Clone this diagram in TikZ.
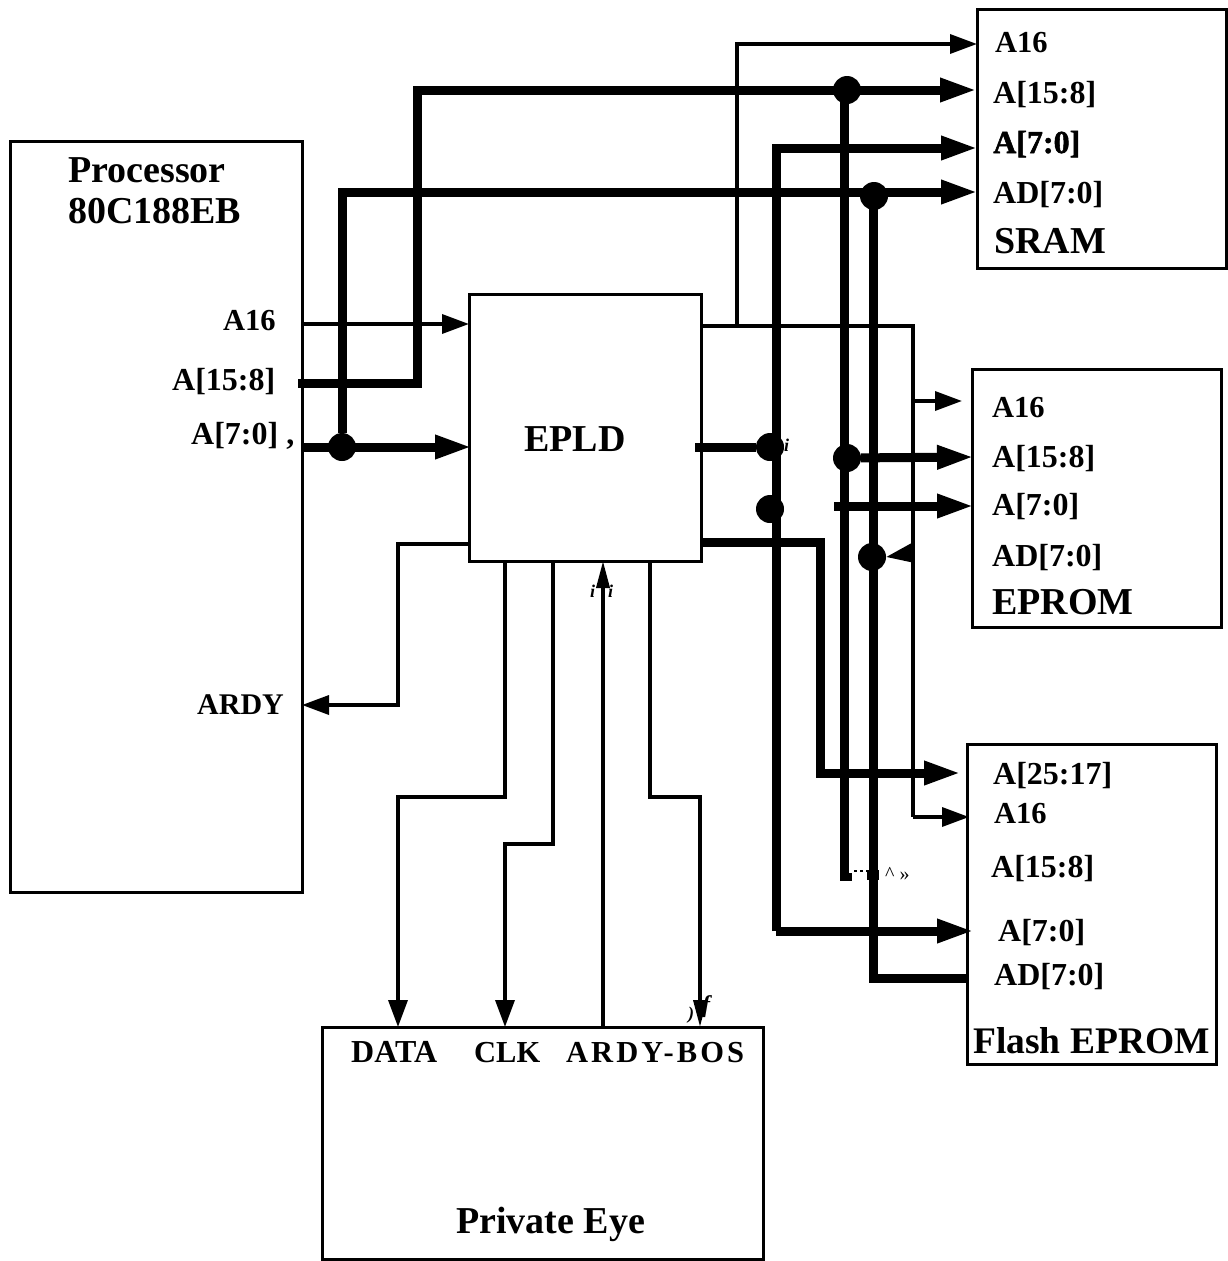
\documentclass[tikz,border=0pt]{standalone}
\usepackage{fontspec}
\setmainfont{Liberation Serif}
\newfontfamily\spacedfont[LetterSpace=10]{Liberation Serif}
\newfontfamily\heavyfont[UprightFont={* Bold},FakeBold=1.6]{Liberation Serif}
\usetikzlibrary{arrows.meta,positioning,calc}

\begin{document}
\begin{tikzpicture}[x=1pt,y=-1pt,
  box/.style={draw,line width=3pt,rectangle,inner sep=0pt,outer sep=0pt,anchor=north west},
  pin/.style={anchor=base west,inner sep=0pt,font=\fontsize{32}{34}\bfseries\selectfont},
  shortpin/.style={pin,font=\fontsize{30.5}{32}\bfseries\selectfont},
  title/.style={anchor=base west,inner sep=0pt,font=\fontsize{38}{41}\bfseries\selectfont},
  junk/.style={anchor=base west,inner sep=0pt,font=\fontsize{18}{20}\bfseries\itshape\selectfont},
  dot/.style={circle,fill=black,inner sep=0pt,minimum size=28pt},
  wire/.style={line width=3.5pt},
  bus/.style={line width=9pt},
  arr/.style={wire,-{Triangle[length=27pt,width=19pt]}},
  slimarr/.style={wire,-{Triangle[length=27pt,width=13pt]}},
  busarr/.style={bus,-{Triangle[length=37pt,width=22pt]}}]
\useasboundingbox (0,0) rectangle (1227,1261);

\node[box,minimum width=292pt,minimum height=751pt] (proc) at (10,141) {};
\node[box,minimum width=232pt,minimum height=267pt] (epld) at (469,294) {};
\node[box,minimum width=249pt,minimum height=259pt] (sram) at (977,9) {};
\node[box,minimum width=249pt,minimum height=258pt] (eprom) at (972,369) {};
\node[box,minimum width=249pt,minimum height=320pt] (flash) at (967,744) {};
\node[box,minimum width=441pt,minimum height=232pt] (eye) at (322,1027) {};

\node[title,align=left,anchor=north west] (proctitle) at (68,157) {Processor\\80C188EB};
\node[title] (epldtitle) at (524,451) {EPLD};
\node[title] (sramtitle) at (994,253) {SRAM};
\node[title] (epromtitle) at (992,614) {EPROM};
\node[title,font=\fontsize{37.5}{40}\bfseries\selectfont] (flashtitle) at (973,1053) {Flash EPROM};
\node[title] (eyetitle) at (456,1233) {Private Eye};

\node[shortpin] (lpa) at (223,330) {A16};
\node[pin] (lpb) at (172,390) {A[15:8]};
\node[pin] (lpc) at (191,444) {A[7:0] ,};
\node[pin,font=\fontsize{30}{32}\bfseries\selectfont] (lpd) at (197,714) {ARDY};
\node[shortpin] (lsa) at (995,52) {A16};
\node[pin] (lsb) at (993,103) {A[15:8]};
\node[pin] (lsc) at (993,153) {\heavyfont A[7:0]};
\node[pin] (lsd) at (993,203) {AD[7:0]};
\node[shortpin] (lea) at (992,417) {A16};
\node[pin] (leb) at (992,467) {A[15:8]};
\node[pin] (lec) at (992,515) {A[7:0]};
\node[pin] (led) at (992,566) {AD[7:0]};
\node[pin] (lfa) at (993,784) {A[25:17]};
\node[shortpin] (lfb) at (994,823) {A16};
\node[pin] (lfc) at (991,877) {A[15:8]};
\node[pin] (lfd) at (998,941) {A[7:0]};
\node[pin] (lfe) at (994,985) {AD[7:0]};
\node[pin] (lya) at (351,1062) {DATA};
\node[shortpin] (lyb) at (474,1062) {CLK};
\node[shortpin] (lyc) at (566,1062) {\spacedfont ARDY-BOS};

\coordinate (pa) at (302,324);
\coordinate (pb) at (298,383);
\coordinate (pc) at (302,447);
\coordinate (pd) at (302,705);
\coordinate (ea) at (469,324);
\coordinate (ec) at (472,447);
\coordinate (ed) at (469,544);
\coordinate (oa) at (701,326);
\coordinate (oc) at (695,447);
\coordinate (od) at (701,542);
\coordinate (sa) at (977,44);
\coordinate (sb) at (977,90);
\coordinate (sc) at (978,148);
\coordinate (sd) at (978,192);
\coordinate (ra) at (962,401);
\coordinate (rb) at (974,457);
\coordinate (rc) at (974,506);
\coordinate (fa) at (961,773);
\coordinate (fb) at (969,817);
\coordinate (fd) at (974,931);
\coordinate (fe) at (967,978);
\coordinate (ya) at (398,1027);
\coordinate (yb) at (505,1027);
\coordinate (yc) at (603,1027);
\coordinate (yd) at (700,1027);
\coordinate (ua) at (505,561);
\coordinate (ub) at (553,561);
\coordinate (uc) at (603,561);
\coordinate (ud) at (650,561);
\coordinate (ka) at (417,90);
\coordinate (kc) at (342,192);
\coordinate (kd) at (398,705);
\coordinate (ke) at (737,44);
\coordinate (kf) at (776,148);
\coordinate (kg) at (913,817);
\coordinate (kh) at (820,773);
\coordinate (kj) at (873,978);
\coordinate (kk) at (776,931);
\coordinate (kl) at (398,797);
\coordinate (km) at (505,844);
\coordinate (kn) at (700,797);
\coordinate (ko) at (844,90);
\coordinate (kp) at (873,192);
\coordinate (ma) at (737,326);
\coordinate (mb) at (913,401);
\coordinate (mc) at (913,553);
\coordinate (md) at (834,506);
\coordinate (me) at (844,878);
\coordinate (mf) at (873,875);
\coordinate (mg) at (854,871);
\coordinate (mh) at (867,871);

\node[dot] (da) at (847,90) {};
\node[dot] (db) at (874,196) {};
\node[dot] (dc) at (342,447) {};
\node[dot] (dd) at (770,447) {};
\node[dot] (de) at (770,509) {};
\node[dot] (df) at (847,458) {};
\node[dot] (dg) at (872,557) {};

\draw[arr] (pa)--(ea);
\draw[busarr] (pb)-|(ka)--(sb);
\draw[busarr] (pc)--(ec);
\draw[busarr] (dc)|-(kc)--(sd);
\draw[bus] (oc)--(dd);
\draw[busarr] (kk)|-(kf)--(sc);
\draw[busarr] (kk)--(fd);
\draw[bus] (ko)--(me);
\draw[busarr] (df)--(rb);
\draw[busarr] (md)--(rc);
\draw[bus] (kp)--(kj)--(fe);
\draw[busarr] (od)-|(kh)--(fa);
\draw[arr] (ma)|-(sa);
\draw[wire] (oa)-|(kg);
\draw[arr] (kg)--(fb);
\draw[arr] (mb)--(ra);
\draw[arr] (mc)--(dg.east);
\draw[arr] (ed)-|(kd)--(pd);
\draw[arr] (ua)|-(kl)--(ya);
\draw[arr] (ub)|-(km)--(yb);
\draw[slimarr] (yc)--(uc);
\draw[slimarr] (ud)|-(kn)--(yd);
\draw[line width=2pt,dashed] (mg)--(mh);
\fill (mf) +(-6,-5) rectangle +(6,5);
\fill (me) +(-4,-5) rectangle +(8,3);

\node[junk] (ja) at (590,597) {i};
\node[junk] (jb) at (608,597) {i};
\node[junk] (jc) at (784,451) {i};
\node[junk] (jd) at (688,1019) {)};
\node[junk,font=\fontsize{24}{26}\bfseries\itshape\selectfont] (je) at (702,1012) {f};
\node[junk,font=\fontsize{20}{22}\selectfont] (jf) at (885,880) {\^{} »};
\end{tikzpicture}
\end{document}
